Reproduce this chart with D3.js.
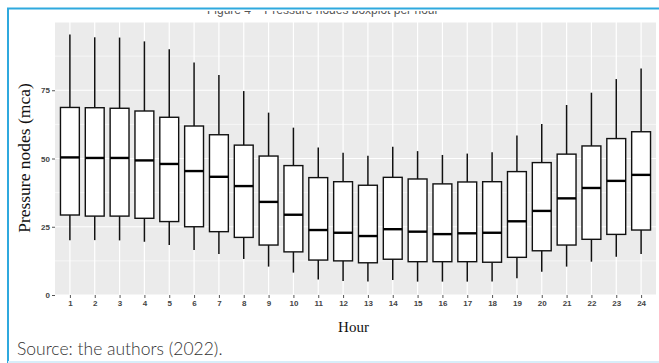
<!DOCTYPE html>
<html>
<head>
<meta charset="utf-8">
<script src="https://cdn.jsdelivr.net/npm/d3@7"></script>
<style>
  body { margin: 0; background: #fff; }
  svg { display: block; }
</style>
</head>
<body>
<div id="chart"></div>
<script>
// hourly box statistics (mca)
const hours = ["1","2","3","4","5","6","7","8","9","10","11","12","13","14","15","16","17","18","19","20","21","22","23","24"];
const whiskerLow = [20.1,20.1,20.0,19.5,18.3,16.5,15.0,13.2,10.4,8.2,5.7,5.1,4.9,5.5,4.9,4.9,4.9,4.9,6.1,8.5,10.4,12.2,14.0,15.0];
const q1 = [29.3,28.9,28.9,28.1,26.9,25.0,23.2,21.1,18.3,15.8,12.8,12.5,11.8,13.1,12.2,12.2,12.2,12.0,13.8,16.2,18.3,20.4,22.2,23.8];
const median = [50.4,50.2,50.2,49.3,48.0,45.4,43.3,39.9,34.1,29.4,23.8,22.8,21.6,24.1,23.2,22.3,22.6,22.8,27.0,30.8,35.4,39.2,41.8,44.0];
const q3 = [68.7,68.6,68.4,67.4,65.1,61.9,58.7,54.9,50.9,47.4,43.0,41.5,40.2,43.1,42.5,40.7,41.4,41.5,45.2,48.5,51.6,54.6,57.3,59.8];
const whiskerHigh = [95.4,94.4,94.3,92.9,90.0,85.2,80.6,74.7,66.8,61.3,54.0,52.1,51.0,54.3,52.7,51.3,51.8,52.3,58.4,62.6,69.6,74.1,79.1,83.0];
const yTicks = [0, 25, 50, 75];
const yMinor = [12.5, 37.5, 62.5, 87.5];

const W = 659, H = 363;
const panel = { left: 55, right: 656, top: 22, bottom: 295 };

const svg = d3.select("#chart").append("svg")
  .attr("width", W).attr("height", H)
  .style("background", "#fff");

// clipped caption at the very top (only the lower part of the line shows)
svg.append("clipPath").attr("id", "capclip")
  .append("rect").attr("x", 0).attr("y", 11).attr("width", W).attr("height", 8);
svg.append("text")
  .attr("clip-path", "url(#capclip)")
  .attr("x", 207).attr("y", 14)
  .attr("font-family", "Liberation Sans, sans-serif")
  .attr("font-size", 12)
  .attr("fill", "#555")
  .text("Figure 4 \u2013 Pressure nodes boxplot per hour");

// frame
svg.append("line").attr("x1", 7).attr("x2", W).attr("y1", 8.5).attr("y2", 8.5)
  .attr("stroke", "#2fa9de").attr("stroke-width", 2);
svg.append("line").attr("x1", 8).attr("x2", 8).attr("y1", 8).attr("y2", H)
  .attr("stroke", "#2fa9de").attr("stroke-width", 2);
svg.append("line").attr("x1", 8).attr("x2", W).attr("y1", 362).attr("y2", 362)
  .attr("stroke", "#d8eef9").attr("stroke-width", 2);

const x = d3.scalePoint().domain(hours).range([panel.left, panel.right]).padding(0.6);
const y = d3.scaleLinear().domain([0, 100]).range([panel.bottom, panel.top]);
const boxW = x.step() * 0.76;

const g = svg.append("g");

// panel background + grid
g.append("rect")
  .attr("x", panel.left).attr("y", panel.top)
  .attr("width", panel.right - panel.left).attr("height", panel.bottom - panel.top)
  .attr("fill", "#ebebeb");

g.selectAll("line.minor").data(yMinor).join("line")
  .attr("x1", panel.left).attr("x2", panel.right)
  .attr("y1", (d) => y(d)).attr("y2", (d) => y(d))
  .attr("stroke", "#fff").attr("stroke-width", 0.6);
g.selectAll("line.major").data(yTicks.concat([100])).join("line")
  .attr("x1", panel.left).attr("x2", panel.right)
  .attr("y1", (d) => y(d)).attr("y2", (d) => y(d))
  .attr("stroke", "#fff").attr("stroke-width", 1.2);
g.selectAll("line.vgrid").data(hours).join("line")
  .attr("x1", (d) => x(d)).attr("x2", (d) => x(d))
  .attr("y1", panel.top).attr("y2", panel.bottom)
  .attr("stroke", "#fff").attr("stroke-width", 1.2);

// axes
const xAxis = g.append("g")
  .attr("transform", `translate(0,${panel.bottom})`)
  .call(d3.axisBottom(x).tickSize(3).tickPadding(2));
const yAxis = g.append("g")
  .attr("transform", `translate(${panel.left},0)`)
  .call(d3.axisLeft(y).tickValues(yTicks).tickSize(3).tickPadding(2));
[xAxis, yAxis].forEach((a) => {
  a.select(".domain").remove();
  a.selectAll(".tick line").attr("stroke", "#555").attr("stroke-width", 1);
  a.selectAll(".tick text")
    .attr("font-family", "Liberation Sans, sans-serif")
    .attr("font-size", 8)
    .attr("font-weight", "bold")
    .attr("fill", "#444");
});

// boxes
const data = hours.map((h, i) => ({
  h, lo: whiskerLow[i], q1: q1[i], med: median[i], q3: q3[i], hi: whiskerHigh[i]
}));

const box = g.selectAll("g.box").data(data).join("g").attr("class", "box");
box.append("line")
  .attr("x1", (d) => x(d.h)).attr("x2", (d) => x(d.h))
  .attr("y1", (d) => y(d.hi)).attr("y2", (d) => y(d.q3))
  .attr("stroke", "#111").attr("stroke-width", 1.5);
box.append("line")
  .attr("x1", (d) => x(d.h)).attr("x2", (d) => x(d.h))
  .attr("y1", (d) => y(d.q1)).attr("y2", (d) => y(d.lo))
  .attr("stroke", "#111").attr("stroke-width", 1.5);
box.append("rect")
  .attr("x", (d) => x(d.h) - boxW / 2)
  .attr("width", boxW)
  .attr("y", (d) => y(d.q3))
  .attr("height", (d) => y(d.q1) - y(d.q3))
  .attr("fill", "#fff").attr("stroke", "#111").attr("stroke-width", 1.4);
box.append("line")
  .attr("x1", (d) => x(d.h) - boxW / 2).attr("x2", (d) => x(d.h) + boxW / 2)
  .attr("y1", (d) => y(d.med)).attr("y2", (d) => y(d.med))
  .attr("stroke", "#000").attr("stroke-width", 2.4);

// axis titles
svg.append("text")
  .attr("x", (panel.left + panel.right) / 2 - 2).attr("y", 332)
  .attr("text-anchor", "middle")
  .attr("font-family", "Liberation Serif, serif")
  .attr("font-size", 15)
  .attr("fill", "#111")
  .text("Hour");
svg.append("text")
  .attr("transform", `translate(30,158) rotate(-90)`)
  .attr("text-anchor", "middle")
  .attr("font-family", "Liberation Serif, serif")
  .attr("font-size", 17.5)
  .attr("fill", "#111")
  .text("Pressure nodes (mca)");

// source note
svg.append("text")
  .attr("x", 17).attr("y", 355)
  .attr("font-family", "Lato, sans-serif")
  .attr("font-size", 17.5)
  .attr("font-weight", 300)
  .attr("fill", "#333")
  .text("Source: the authors (2022).");
</script>
</body>
</html>
